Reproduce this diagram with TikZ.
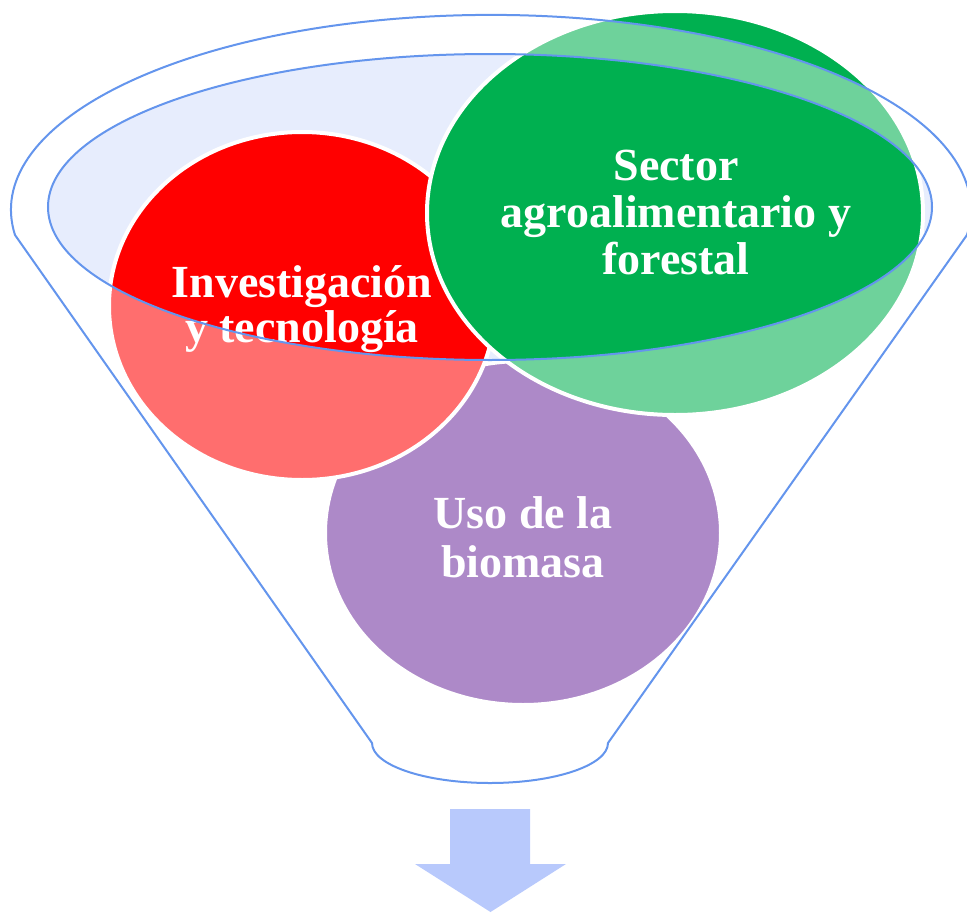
\documentclass[tikz,border=0pt]{standalone}
\usepackage{fontspec}
\setmainfont{Liberation Serif}
\definecolor{funline}{RGB}{100,149,237}
\definecolor{innerfill}{RGB}{231,237,253}
\definecolor{arrowfill}{RGB}{184,201,252}
\definecolor{cred}{RGB}{255,0,0}
\definecolor{cgreen}{RGB}{0,176,80}
\definecolor{cpurple}{RGB}{112,48,160}
\tikzset{
  blob/.style={draw=white, line width=4pt},
  lbl/.style={text=white, font=\bfseries, anchor=base, inner sep=0pt},
  outline/.style={draw=funline, line width=2pt},
}
\begin{document}
\begin{tikzpicture}[x=1pt,y=-1pt]
\useasboundingbox (0,0) rectangle (967,913);
% inner ellipse fill (background)
\fill[innerfill] (490,207) ellipse [x radius=442, y radius=153];
% circles
\path[blob, fill=cpurple] (523,533) ellipse [x radius=198, y radius=172];
\path[blob, fill=cred] (302,306) ellipse [x radius=193, y radius=174];
\path[blob, fill=cgreen] (675,213) ellipse [x radius=248, y radius=202];
% labels
\node[lbl] (inv) at (302,297) {\fontsize{46}{45}\selectfont\begin{tabular}[t]{@{}c@{}}Investigación\\y tecnología\end{tabular}};
\node[lbl] (sec) at (676,180) {\fontsize{46}{47}\selectfont\begin{tabular}[t]{@{}c@{}}Sector\\agroalimentario y\\forestal\end{tabular}};
\node[lbl] (uso) at (523,528) {\fontsize{46}{49}\selectfont\begin{tabular}[t]{@{}c@{}}Uso de la\\biomasa\end{tabular}};
% funnel translucent body with hole
\fill[white, fill opacity=0.43, even odd rule]
  (15,235) arc[start angle=172.6, end angle=367.4, x radius=480, y radius=195]
  -- (608,743) arc[start angle=0, end angle=180, x radius=118, y radius=40] -- cycle
  (490,207) ellipse [x radius=442, y radius=153];
% funnel outlines
\draw[outline, line join=round]
  (15,235) arc[start angle=172.6, end angle=367.4, x radius=480, y radius=195]
  -- (608,743) arc[start angle=0, end angle=180, x radius=118, y radius=40] -- cycle;
\draw[outline] (490,207) ellipse [x radius=442, y radius=153];
% arrow
\fill[arrowfill] (450,809) -- (530,809) -- (530,864) -- (566,864) -- (490.5,912) -- (415,864) -- (450,864) -- cycle;
\end{tikzpicture}
\end{document}
